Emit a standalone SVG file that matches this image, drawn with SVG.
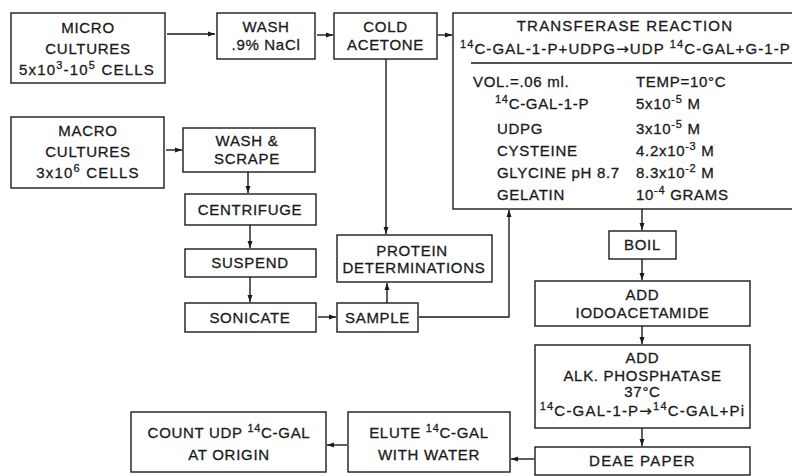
<svg xmlns="http://www.w3.org/2000/svg" width="792" height="476" viewBox="0 0 792 476">
<defs>
<style>
.box{fill:#fff;stroke:#1a1a1a;stroke-width:1.4}
.ln{fill:none;stroke:#1a1a1a;stroke-width:1.4}
.t{font-family:"Liberation Sans",Arial,sans-serif;font-size:15px;fill:#1a1a1a;stroke:#1a1a1a;stroke-width:0.3px;letter-spacing:0.7px}
.c{text-anchor:middle}
.s{font-size:11px}
.ar{font-family:"DejaVu Sans",sans-serif}
.wide{letter-spacing:1.2px}
</style>
<marker id="ah" markerWidth="8" markerHeight="6" refX="7" refY="3" orient="auto" markerUnits="userSpaceOnUse">
<path d="M0,0.5 L7,3 L0,5.5 z" fill="#1a1a1a"/>
</marker>
</defs>
<rect width="792" height="476" fill="#fff"/>

<g id="connectors">
<line class="ln" x1="167" y1="34" x2="215" y2="34" marker-end="url(#ah)"/>
<line class="ln" x1="317" y1="35" x2="333" y2="35" marker-end="url(#ah)"/>
<line class="ln" x1="438" y1="35" x2="452" y2="35" marker-end="url(#ah)"/>
<line class="ln" x1="386" y1="59" x2="386" y2="234" marker-end="url(#ah)"/>
<line class="ln" x1="166" y1="150" x2="182" y2="150" marker-end="url(#ah)"/>
<line class="ln" x1="248" y1="172" x2="248" y2="193" marker-end="url(#ah)"/>
<line class="ln" x1="250" y1="225" x2="250" y2="248" marker-end="url(#ah)"/>
<line class="ln" x1="250" y1="277" x2="250" y2="302" marker-end="url(#ah)"/>
<line class="ln" x1="318" y1="317" x2="336" y2="317" marker-end="url(#ah)"/>
<line class="ln" x1="387" y1="303" x2="387" y2="283" marker-end="url(#ah)"/>
<polyline class="ln" points="419,317 509,317 509,210" marker-end="url(#ah)"/>
<line class="ln" x1="642" y1="209" x2="642" y2="230" marker-end="url(#ah)"/>
<line class="ln" x1="642" y1="259" x2="642" y2="280" marker-end="url(#ah)"/>
<line class="ln" x1="642" y1="326" x2="642" y2="344" marker-end="url(#ah)"/>
<line class="ln" x1="642" y1="428" x2="642" y2="446" marker-end="url(#ah)"/>
<line class="ln" x1="534" y1="459" x2="511" y2="459" marker-end="url(#ah)"/>
<line class="ln" x1="347" y1="445" x2="327" y2="445" marker-end="url(#ah)"/>
</g>

<g id="micro">
<rect class="box" x="11" y="13" width="154" height="70"/>
<text class="t c" x="88" y="33">MICRO</text>
<text class="t c" x="88" y="54">CULTURES</text>
<text class="t c wide" x="87" y="75">5x10<tspan dy="-6" class="s">3</tspan><tspan dy="6">-10</tspan><tspan dy="-6" class="s">5</tspan><tspan dy="6"> CELLS</tspan></text>
</g>

<g id="wash">
<rect class="box" x="217" y="13" width="98" height="46"/>
<text class="t c" x="266" y="32">WASH</text>
<text class="t c" x="266" y="50">.9% NaCl</text>
</g>

<g id="cold">
<rect class="box" x="334" y="13" width="103" height="46"/>
<text class="t c" x="385.5" y="32">COLD</text>
<text class="t c" x="385.5" y="50">ACETONE</text>
</g>

<g id="transferase">
<rect class="box" x="453" y="13" width="345" height="196"/>
<text class="t c wide" x="625" y="31">TRANSFERASE REACTION</text>
<text class="t" x="460" y="54" style="letter-spacing:1.1px"><tspan dy="-6" class="s">14</tspan><tspan dy="6">C-GAL-1-P+UDPG</tspan><tspan class="ar">→</tspan><tspan>UDP </tspan><tspan dy="-6" class="s">14</tspan><tspan dy="6">C-GAL+G-1-P</tspan></text>
<line class="ln" x1="471" y1="63" x2="792" y2="63"/>
<text class="t" x="473" y="87">VOL.=.06 ml.</text>
<text class="t" x="495" y="109"><tspan dy="-6" class="s">14</tspan><tspan dy="6">C-GAL-1-P</tspan></text>
<text class="t" x="497" y="134">UDPG</text>
<text class="t" x="497" y="156">CYSTEINE</text>
<text class="t" x="497" y="178">GLYCINE pH 8.7</text>
<text class="t" x="497" y="200">GELATIN</text>
<text class="t" x="636" y="87">TEMP=10°C</text>
<text class="t" x="636" y="109">5x10<tspan dy="-6" class="s">-5</tspan><tspan dy="6"> M</tspan></text>
<text class="t" x="636" y="134">3x10<tspan dy="-6" class="s">-5</tspan><tspan dy="6"> M</tspan></text>
<text class="t" x="636" y="156">4.2x10<tspan dy="-6" class="s">-3</tspan><tspan dy="6"> M</tspan></text>
<text class="t" x="636" y="178">8.3x10<tspan dy="-6" class="s">-2</tspan><tspan dy="6"> M</tspan></text>
<text class="t" x="636" y="200">10<tspan dy="-6" class="s">-4</tspan><tspan dy="6"> GRAMS</tspan></text>
</g>

<g id="macro">
<rect class="box" x="11" y="117" width="153" height="71"/>
<text class="t c" x="88" y="136">MACRO</text>
<text class="t c" x="88" y="157">CULTURES</text>
<text class="t c wide" x="88" y="178">3x10<tspan dy="-6" class="s">6</tspan><tspan dy="6"> CELLS</tspan></text>
</g>

<g id="washscrape">
<rect class="box" x="183" y="128" width="132" height="44"/>
<text class="t c" x="247" y="146">WASH &amp;</text>
<text class="t c" x="247" y="164">SCRAPE</text>
</g>

<g id="centrifuge">
<rect class="box" x="185" y="194" width="131" height="31"/>
<text class="t c" x="250" y="215">CENTRIFUGE</text>
</g>

<g id="suspend">
<rect class="box" x="185" y="249" width="131" height="28"/>
<text class="t c" x="250" y="268">SUSPEND</text>
</g>

<g id="sonicate">
<rect class="box" x="185" y="303" width="131" height="29"/>
<text class="t c" x="250" y="323">SONICATE</text>
</g>

<g id="sample">
<rect class="box" x="337" y="303" width="81" height="29"/>
<text class="t c" x="377.5" y="323">SAMPLE</text>
</g>

<g id="protein">
<rect class="box" x="337" y="235" width="155" height="47"/>
<text class="t c" x="412" y="256">PROTEIN</text>
<text class="t c" x="414" y="273">DETERMINATIONS</text>
</g>

<g id="boil">
<rect class="box" x="609" y="231" width="67" height="28"/>
<text class="t c" x="642.5" y="250">BOIL</text>
</g>

<g id="iodo">
<rect class="box" x="535" y="281" width="215" height="45"/>
<text class="t c" x="642.5" y="300">ADD</text>
<text class="t c" x="642.5" y="318">IODOACETAMIDE</text>
</g>

<g id="alk">
<rect class="box" x="535" y="345" width="215" height="83"/>
<text class="t c" x="642.5" y="363">ADD</text>
<text class="t c" x="642.5" y="381">ALK. PHOSPHATASE</text>
<text class="t c" x="642.5" y="397">37°C</text>
<text class="t c wide" x="642.5" y="416"><tspan dy="-6" class="s">14</tspan><tspan dy="6">C-GAL-1-P</tspan><tspan class="ar">→</tspan><tspan dy="-6" class="s">14</tspan><tspan dy="6">C-GAL+Pi</tspan></text>
</g>

<g id="deae">
<rect class="box" x="535" y="447" width="215" height="28"/>
<text class="t c wide" x="642.5" y="466">DEAE PAPER</text>
</g>

<g id="elute">
<rect class="box" x="348" y="412" width="162" height="60"/>
<text class="t c" x="429" y="438">ELUTE <tspan dy="-6" class="s">14</tspan><tspan dy="6">C-GAL</tspan></text>
<text class="t c" x="429" y="460">WITH WATER</text>
</g>

<g id="count">
<rect class="box" x="131" y="412" width="195" height="60"/>
<text class="t c" x="229" y="438">COUNT UDP <tspan dy="-6" class="s">14</tspan><tspan dy="6">C-GAL</tspan></text>
<text class="t c" x="229" y="460">AT ORIGIN</text>
</g>
</svg>
